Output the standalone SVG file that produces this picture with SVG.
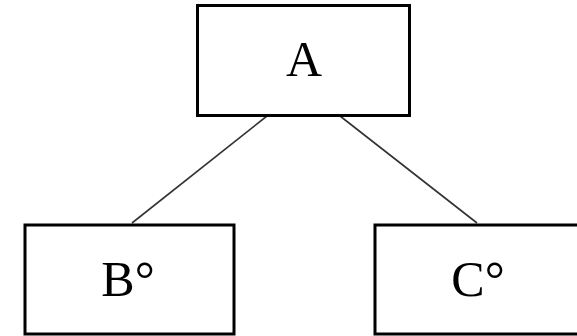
<svg xmlns="http://www.w3.org/2000/svg" width="577" height="336" viewBox="0 0 577 336">
  <style>
    .box { fill: #fff; stroke: #000; stroke-width: 3; }
    .label { font-family: "Liberation Serif", "Times New Roman", serif; font-size: 50px; fill: #000; text-anchor: middle; }
    .edge { stroke: #333; stroke-width: 1.6; fill: none; }
  </style>
  <rect width="577" height="336" fill="#fff"/>
  <g id="connectors">
    <line class="edge" x1="267" y1="116" x2="132" y2="223"/>
    <line class="edge" x1="340" y1="116" x2="477" y2="223"/>
  </g>
  <g id="node-A">
    <rect class="box" x="197.5" y="5.5" width="212" height="110"/>
    <text class="label" x="304" y="76">A</text>
  </g>
  <g id="node-B">
    <rect class="box" x="25" y="225" width="209" height="109"/>
    <text class="label" x="128" y="296">B°</text>
  </g>
  <g id="node-C">
    <rect class="box" x="375" y="225" width="205" height="109"/>
    <text class="label" x="478" y="296">C°</text>
  </g>
</svg>
